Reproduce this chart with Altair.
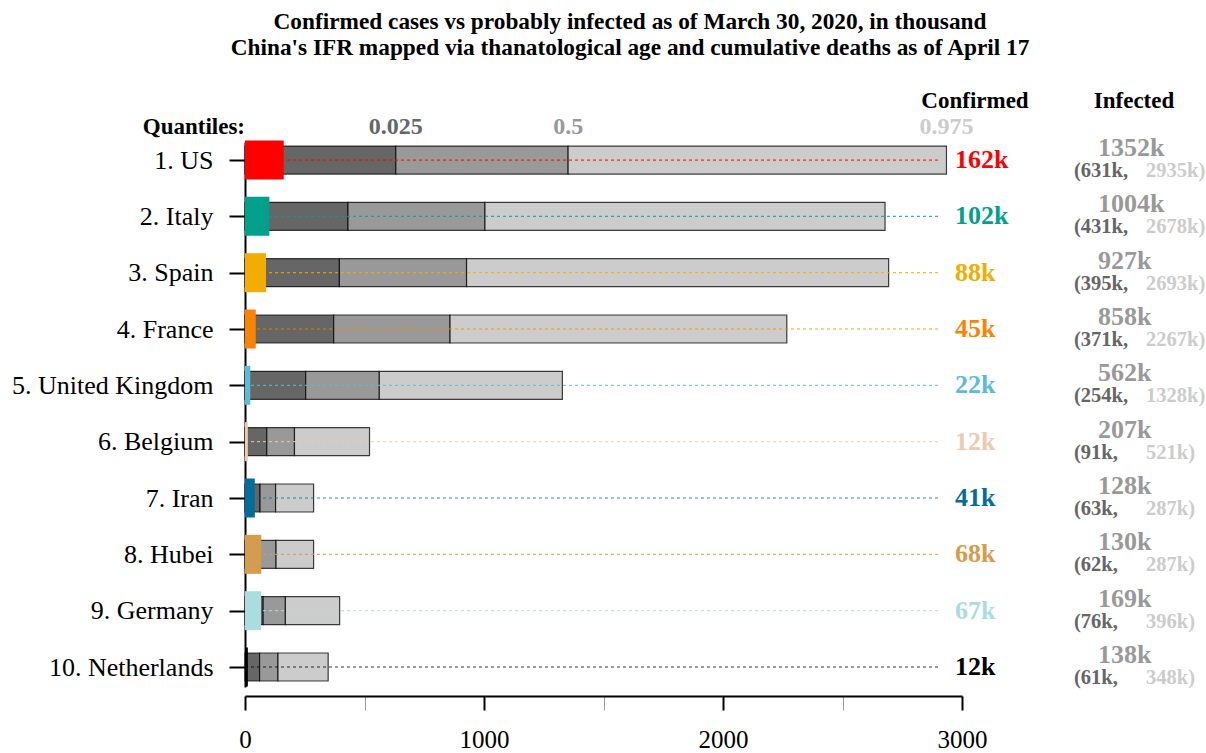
import altair as alt
import pandas as pd

# --- data -------------------------------------------------------------
countries = ["US", "Italy", "Spain", "France", "United Kingdom",
             "Belgium", "Iran", "Hubei", "Germany", "Netherlands"]
confirmed = [162, 102, 88, 45, 22, 12, 41, 68, 67, 12]          # thousand
infected_q025 = [631, 431, 395, 371, 254, 91, 63, 62, 76, 61]
infected_q500 = [1352, 1004, 927, 858, 562, 207, 128, 130, 169, 138]
infected_q975 = [2935, 2678, 2693, 2267, 1328, 521, 287, 287, 396, 348]
country_colors = ["#FF0000", "#00A08A", "#F2AD00", "#F98400", "#5BBCD6",
                  "#ECCBAE", "#046C9A", "#D69C4E", "#ABDDDE", "#000000"]
quantile_names = ["0.025", "0.5", "0.975"]
quantile_fills = ["#666666", "#999999", "#CCCCCC"]
x_ticks = [0, 500, 1000, 1500, 2000, 2500, 3000]
title_lines = [
    "Confirmed cases vs probably infected as of March 30, 2020, in thousand",
    "China's IFR mapped via thanatological age and cumulative deaths as of April 17",
]

FONT = "Liberation Serif"
W, H = 717, 545

rank = list(range(1, len(countries) + 1))
row_labels = [f"{r}. {c}" for r, c in zip(rank, countries)]

rows = pd.DataFrame({
    "rank": rank,
    "country": countries,
    "confirmed": confirmed,
    "q025": infected_q025,
    "q500": infected_q500,
    "q975": infected_q975,
    "color": country_colors,
    "conf_label": [f"{v}k" for v in confirmed],
    "med_label": [f"{v}k" for v in infected_q500],
    "lo_label": [f"({v}k," for v in infected_q025],
    "hi_label": [f"{v}k)" for v in infected_q975],
})

# one stacked segment per quantile interval
seg_records = []
for r, lo, med, hi in zip(rank, infected_q025, infected_q500, infected_q975):
    bounds = [0, lo, med, hi]
    for i in range(3):
        seg_records.append({"rank": r, "start": bounds[i], "end": bounds[i + 1],
                            "fill": quantile_fills[i]})
segments = pd.DataFrame(seg_records)

us = rows.iloc[0]
quantile_heads = pd.DataFrame({
    "name": quantile_names,
    "value": [us["q025"], us["q500"], us["q975"]],
    "color": quantile_fills,
})

# --- scales & axes ----------------------------------------------------
x_scale = alt.Scale(domain=[0, 3000], nice=False, zero=False, padding=0)
y_scale = alt.Scale(domain=[0.68, 10.355], reverse=True, nice=False, zero=False,
                    padding=0)

label_expr = "[" + ",".join(f"'{l}'" for l in row_labels) + "][datum.value - 1]"
y_axis = alt.Axis(values=rank, labelExpr=label_expr, title=None, grid=False,
                  domainColor="black", domainWidth=2, tickColor="black",
                  tickWidth=2, tickSize=16, labelPadding=16, labelFont=FONT,
                  labelFontSize=26, labelColor="black", labelLimit=400)

major = "datum.value % 1000 === 0"
x_axis = alt.Axis(values=x_ticks, format="d", title=None, grid=False, offset=9,
                  domainColor="black", domainWidth=2, tickSize=14,
                  tickColor={"condition": {"test": major, "value": "black"},
                             "value": "#999999"},
                  tickWidth={"condition": {"test": major, "value": 2},
                             "value": 1},
                  labelExpr=f"{major} ? datum.label : ''",
                  labelFlush=False, labelPadding=17, labelFont=FONT,
                  labelFontSize=25, labelColor="black")

# --- layers -----------------------------------------------------------
bars = alt.Chart(segments).mark_bar(
    size=28, stroke="black", strokeWidth=1.2, strokeOpacity=0.75
).encode(
    x=alt.X("start:Q", scale=x_scale, axis=x_axis),
    x2="end:Q",
    y=alt.Y("rank:Q", scale=y_scale, axis=y_axis),
    fill=alt.Fill("fill:N", scale=None),
)

guides = alt.Chart(rows).transform_calculate(
    g0="0", g1="2900"
).mark_rule(
    strokeDash=[3, 3], strokeWidth=1.2, opacity=0.8
).encode(
    x=alt.X("g0:Q"),
    x2="g1:Q",
    y=alt.Y("rank:Q"),
    color=alt.Color("color:N", scale=None),
)

conf_bars = alt.Chart(rows).transform_calculate(
    b0="0"
).mark_bar(size=39).encode(
    x=alt.X("b0:Q"),
    x2="confirmed:Q",
    y=alt.Y("rank:Q"),
    fill=alt.Fill("color:N", scale=None),
)

conf_text = alt.Chart(rows).mark_text(
    align="left", baseline="middle", font=FONT, fontSize=26, fontWeight="bold"
).encode(
    x=alt.value(710),
    y=alt.Y("rank:Q"),
    text="conf_label:N",
    color=alt.Color("color:N", scale=None),
)

med_text = alt.Chart(rows).mark_text(
    align="left", baseline="middle", font=FONT, fontSize=26, fontWeight="bold",
    color="#999999", dy=-12
).encode(x=alt.value(853), y=alt.Y("rank:Q"), text="med_label:N")

lo_text = alt.Chart(rows).mark_text(
    align="left", baseline="middle", font=FONT, fontSize=20.5, fontWeight="bold",
    color="#666666", dy=11
).encode(x=alt.value(829), y=alt.Y("rank:Q"), text="lo_label:N")

hi_text = alt.Chart(rows).mark_text(
    align="left", baseline="middle", font=FONT, fontSize=20.5, fontWeight="bold",
    color="#CCCCCC", dy=11
).encode(x=alt.value(901), y=alt.Y("rank:Q"), text="hi_label:N")

q_heads = alt.Chart(quantile_heads).mark_text(
    align="center", baseline="middle", font=FONT, fontSize=24, fontWeight="bold"
).encode(
    x=alt.X("value:Q"),
    y=alt.value(-15),
    text="name:N",
    color=alt.Color("color:N", scale=None),
)

heads = pd.DataFrame({"text": ["Quantiles:", "Confirmed", "Infected"]})
quant_label = alt.Chart(heads.iloc[[0]]).mark_text(
    align="right", baseline="middle", font=FONT, fontSize=23, fontWeight="bold",
    color="black"
).encode(x=alt.value(0), y=alt.value(-15), text="text:N")
conf_head = alt.Chart(heads.iloc[[1]]).mark_text(
    align="center", baseline="middle", font=FONT, fontSize=23, fontWeight="bold",
    color="black"
).encode(x=alt.value(730), y=alt.value(-41), text="text:N")
inf_head = alt.Chart(heads.iloc[[2]]).mark_text(
    align="center", baseline="middle", font=FONT, fontSize=23, fontWeight="bold",
    color="black"
).encode(x=alt.value(889), y=alt.value(-41), text="text:N")

titles = pd.DataFrame({"text": title_lines})
title1 = alt.Chart(titles.iloc[[0]]).mark_text(
    align="center", baseline="middle", font=FONT, fontSize=23.3, fontWeight="bold",
    color="black"
).encode(x=alt.value(385), y=alt.value(-120), text="text:N")
title2 = alt.Chart(titles.iloc[[1]]).mark_text(
    align="center", baseline="middle", font=FONT, fontSize=23.3, fontWeight="bold",
    color="black"
).encode(x=alt.value(385), y=alt.value(-94), text="text:N")

chart = alt.layer(
    bars, guides, conf_bars, conf_text, med_text, lo_text, hi_text,
    q_heads, quant_label, conf_head, inf_head, title1, title2,
).properties(
    width=W,
    height=H,
    autosize=alt.AutoSizeParams(type="none"),
    padding={"left": 245, "top": 142, "right": 244, "bottom": 66},
).configure_view(stroke=None)

chart.save("out.html", embed_options={"renderer": "svg", "actions": False})
